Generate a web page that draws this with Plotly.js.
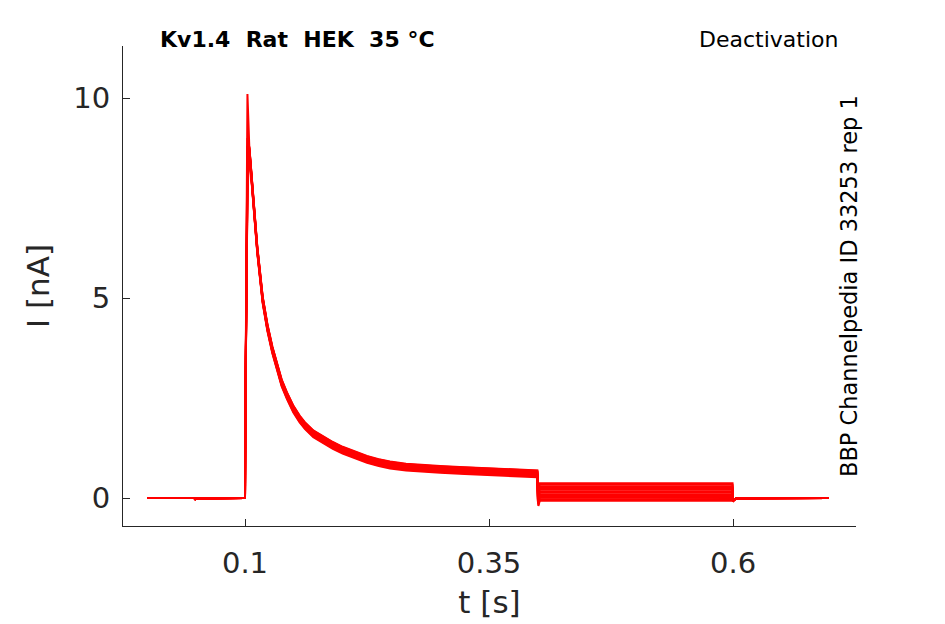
<!DOCTYPE html>
<html>
<head>
<meta charset="utf-8">
<script src="https://cdn.plot.ly/plotly-3.0.1.min.js"></script>
<style>
  body { margin: 0; background: #fff; }
  #chart { width: 945px; height: 624px; }
</style>
</head>
<body>
<div id="chart"></div>
<script>
// time points of the holding / activation / decay part [s]
const tPre = [0.0, 0.048, 0.049, 0.05, 0.0995, 0.1, 0.1005, 0.1025];
const iPre = [0.0, 0.0, -0.03, -0.01, 0.0, 0.0, 2.5];          // last point is the sweep peak
const tDecay = [0.1044, 0.1085, 0.1126, 0.1181, 0.123, 0.128, 0.133, 0.1376, 0.143, 0.1495,
                0.156, 0.1615, 0.17, 0.181, 0.19, 0.2, 0.2148, 0.225, 0.237, 0.2486,
                0.265, 0.285, 0.30, 0.325, 0.351, 0.375, 0.3995];
const iDecay = [8.7, 7.45, 6.2, 4.95, 4.25, 3.7, 3.25, 2.87, 2.55, 2.22,
                1.97, 1.8, 1.6, 1.43, 1.31, 1.19, 1.05, 0.96, 0.88, 0.82,
                0.765, 0.73, 0.71, 0.68, 0.65, 0.625, 0.6];
// deactivation step and return to holding
const tPost = [0.4, 0.4006, 0.402, 0.5, 0.5995, 0.6, 0.6006, 0.603, 0.65, 0.698];
const iTail = [0.0, -0.06, -0.01, 0.0, 0.0];

// per sweep values
const peaks    = [10.1, 9.0, 8.8, 8.6, 8.4, 8.2, 8.1, 8.0, 7.9, 7.8, 7.7, 7.6];
const spread   = [0.08, 0.05, 0.02, 0.0, -0.02, -0.04, 0.06, -0.06, 0.09, -0.08, 0.03, -0.03];
const deact    = [0.37, 0.33, 0.29, 0.25, 0.21, 0.17, 0.13, 0.09, 0.05, 0.01, -0.03, -0.07];
const deactDip = [0.30, 0.25, 0.2, 0.15, 0.1, 0.05, 0.0, -0.04, -0.08, -0.12, -0.16, -0.2];

const traces = peaks.map((pk, k) => {
  const x = tPre.concat(tDecay, tPost);
  const y = iPre.concat([pk],
    iDecay.map(v => v + spread[k]),
    [deact[k], deactDip[k], deact[k], deact[k], deact[k]],
    iTail);
  return {
    x: x, y: y, type: 'scatter', mode: 'lines',
    line: { color: '#ff0000', width: 2 },
    hoverinfo: 'skip', showlegend: false
  };
});

const axisColor = '#262626';
const font = 'DejaVu Sans, sans-serif';

Plotly.newPlot('chart', traces, {
  width: 945, height: 624,
  margin: { l: 123, r: 89, t: 46, b: 98 },
  paper_bgcolor: '#fff', plot_bgcolor: '#fff',
  font: { family: font, color: axisColor },
  xaxis: {
    range: [-0.025, 0.726],
    tickvals: [0.1, 0.35, 0.6], ticktext: ['0.1', '0.35', '0.6'],
    ticks: 'inside', ticklen: 7, tickcolor: axisColor, tickwidth: 1,
    ticklabelstandoff: 11,
    showline: true, linecolor: axisColor, linewidth: 1,
    showgrid: false, zeroline: false,
    tickfont: { size: 29, color: axisColor },
    title: { text: 't [s]', font: { size: 31, color: axisColor }, standoff: 12 }
  },
  yaxis: {
    range: [-0.7, 11.3],
    tickvals: [0, 5, 10],
    ticks: 'inside', ticklen: 7, tickcolor: axisColor, tickwidth: 1,
    ticklabelstandoff: 6,
    showline: true, linecolor: axisColor, linewidth: 1,
    showgrid: false, zeroline: false,
    tickfont: { size: 29, color: axisColor },
    title: { text: 'I [nA]', font: { size: 31, color: axisColor }, standoff: 14 }
  },
  annotations: [
    { text: '<b>Kv1.4\u00a0\u00a0Rat\u00a0\u00a0HEK\u00a0\u00a035 °C</b>', xref: 'paper', yref: 'paper',
      x: (158 - 123) / 733, y: 1, xanchor: 'left', yanchor: 'bottom', yshift: -8,
      showarrow: false, font: { size: 22, color: '#000' } },
    { text: 'Deactivation', xref: 'paper', yref: 'paper',
      x: (840 - 123) / 733, y: 1, xanchor: 'right', yanchor: 'bottom', yshift: -8,
      showarrow: false, font: { size: 22, color: '#000' } },
    { text: 'BBP Channelpedia ID 33253 rep 1', xref: 'paper', yref: 'paper',
      x: (849 - 123) / 733, y: (526 - 286) / 480, xanchor: 'center', yanchor: 'middle',
      textangle: -90, showarrow: false, font: { size: 22.5, color: '#000' } }
  ]
}, { displayModeBar: false, staticPlot: true });
</script>
</body>
</html>
